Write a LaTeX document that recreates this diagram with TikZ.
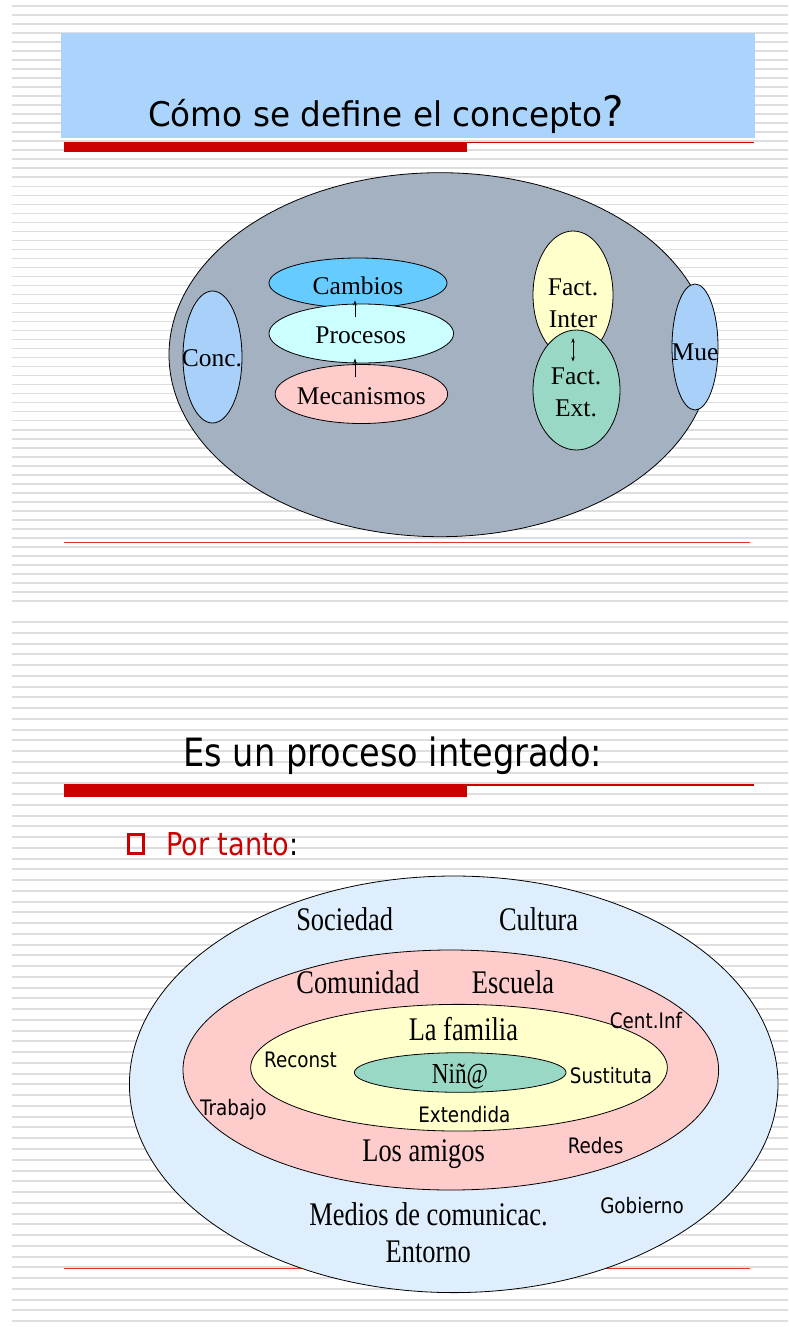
\documentclass[tikz,border=0pt]{standalone}
\usepackage{fontspec}
\usepackage{tikz}
\usetikzlibrary{shapes.geometric,arrows.meta}
\setmainfont{Liberation Serif}
\newfontfamily\titlesans[FakeStretch=0.96]{DejaVu Sans}
\newfontfamily\slidesans[FakeStretch=0.86]{DejaVu Sans}
\newfontfamily\narrowserif[FakeStretch=0.8]{Liberation Serif}

\definecolor{stripegray}{RGB}{222,222,222}
\definecolor{headblue}{RGB}{170,212,252}
\definecolor{slidered}{RGB}{204,0,0}
\definecolor{linered}{RGB}{226,50,50}
\definecolor{ovalgray}{RGB}{163,177,192}
\definecolor{ovalblue}{RGB}{168,208,248}
\definecolor{cambblue}{RGB}{102,204,255}
\definecolor{proccyan}{RGB}{204,255,255}
\definecolor{softpink}{RGB}{255,204,204}
\definecolor{softyellow}{RGB}{255,255,204}
\definecolor{softgreen}{RGB}{153,216,196}
\definecolor{paleblue}{RGB}{222,238,252}

\tikzset{
  stripe/.style={line width=1.6pt, color=stripegray},
  oval/.style={ellipse, draw=black, line width=0.8pt, inner sep=0pt},
  toptxt/.style={anchor=base, inner sep=0pt, font=\fontsize{25.5}{32}\selectfont},
  bigtxt/.style={anchor=base, inner sep=0pt, font=\narrowserif\fontsize{33}{36}\selectfont},
  smalltxt/.style={anchor=base, inner sep=0pt, font=\slidesans\fontsize{21.3}{24}\selectfont},
  redline/.style={line width=1.2pt, color=linered},
  arr/.style={line width=0.8pt, -{Stealth[length=5pt,width=3.5pt]}},
}

\begin{document}
\begin{tikzpicture}[x=1pt,y=-1pt]
    \useasboundingbox (0,0) rectangle (788,1327);
    \fill[white] (0,0) rectangle (788,1327);
    % striped background, two slides
    \foreach \k in {0,...,66}
        \draw[stripe] (11.5,{6+9.015*\k}) -- (788,{6+9.015*\k});
    \foreach \k in {0,...,65}
        \draw[stripe, line width=2pt] (11.5,{622+10.755*\k}) -- (788,{622+10.755*\k});

    % first slide
    \fill[headblue] (61,33) rectangle (755,138);
    \node[anchor=base west, inner sep=0pt, font=\titlesans\fontsize{34}{40}\selectfont] (title1)
        at (148,126.7) {Cómo se define el concepto{\fontsize{42}{42}\selectfont ?}};
    \fill[slidered] (64,142) rectangle (467,152);
    \draw[slidered, line width=1.2pt] (64,142.6) -- (754,142.6);
    \draw[redline] (64,542.7) -- (750,542.7);

    \node[oval, fill=ovalgray, minimum width=542pt, minimum height=364pt] (whole) at (440,354.7) {};
    \node[oval, fill=ovalblue, minimum width=59pt, minimum height=132pt] (concE) at (212.5,357) {};
    \node[oval, fill=ovalblue, minimum width=46pt, minimum height=126pt] (mueE) at (695,347) {};
    \node[oval, fill=cambblue, minimum width=178pt, minimum height=50pt] (cambE) at (358,283) {};
    \node[oval, fill=proccyan, minimum width=184.6pt, minimum height=59pt] (procE) at (361.3,333.5) {};
    \node[oval, fill=softpink, minimum width=172.5pt, minimum height=59pt] (mecE) at (361.4,394) {};
    \node[oval, fill=softyellow, minimum width=80pt, minimum height=128pt] (interE) at (573,295) {};
    \node[oval, fill=softgreen, minimum width=87pt, minimum height=120pt] (extE) at (576.5,390) {};

    \node[toptxt] (conc) at (212,366.7) {Conc.};
    \node[toptxt] (mue) at (695,360) {Mue};
    \node[toptxt] (cambios) at (358,294) {Cambios};
    \node[toptxt] (procesos) at (360.8,343.3) {Procesos};
    \node[toptxt] (mecanismos) at (361.4,404.3) {Mecanismos};
    \node[toptxt, anchor=center, align=center] (inter) at (573,302.9) {Fact.\\Inter};
    \node[toptxt, anchor=center, align=center] (ext) at (576,392.4) {Fact.\\Ext.};

    \draw[arr, shorten <=9.4pt, shorten >=6pt] ([xshift=-5.8pt]procesos.north) -- ([xshift=-3pt]cambios.south);
    \draw[arr, shorten <=10pt, shorten >=14.7pt] ([xshift=-6.4pt]mecanismos.north) -- ([xshift=-5.8pt]procesos.south);
    \draw[arr, {Stealth[length=5pt,width=3.5pt]}-{Stealth[length=5pt,width=3.5pt]}, shorten <=10.3pt, shorten >=6pt]
        (inter.south) -- ([xshift=-3pt]ext.north);

    % second slide
    \node[anchor=base west, inner sep=0pt, font=\slidesans\fontsize{39}{44}\selectfont] (title2)
        at (183.4,766.7) {Es un proceso integrado:};
    \fill[slidered] (64,785) rectangle (467,796.7);
    \draw[slidered, line width=1.2pt] (64,785) -- (754,785);
    \draw[slidered, line width=3pt] (128.2,834.2) rectangle (143.5,853.5);
    \node[anchor=base west, inner sep=0pt, font=\slidesans\fontsize{31.5}{36}\selectfont] (portanto)
        at (166,855) {\textcolor{slidered}{Por tanto}:};
    \draw[redline] (64,1268.3) -- (750,1268.3);

    \node[oval, fill=paleblue, minimum width=648.6pt, minimum height=416.6pt] (entornoE) at (453.7,1084.3) {};
    \node[oval, fill=softpink, minimum width=535.6pt, minimum height=240pt] (comunE) at (450.8,1070) {};
    \node[oval, fill=softyellow, minimum width=416.7pt, minimum height=126.7pt] (familiaE) at (459,1067.7) {};
    \node[oval, fill=softgreen, minimum width=211.7pt, minimum height=39.6pt] (ninoE) at (460.2,1072.5) {};

    \node[bigtxt] (sociedad) at (344.7,930) {Sociedad};
    \node[bigtxt] (cultura) at (538.6,930) {Cultura};
    \node[bigtxt] (comunidad) at (358,993) {Comunidad};
    \node[bigtxt] (escuela) at (513,993) {Escuela};
    \node[bigtxt] (familia) at (463.4,1040.7) {La familia};
    \node[bigtxt, font=\narrowserif\fontsize{29}{32}\selectfont] (nino) at (460,1083.3) {Niñ@};
    \node[bigtxt] (amigos) at (423.6,1161) {Los amigos};
    \node[bigtxt] (medios) at (428.5,1225) {Medios de comunicac.};
    \node[bigtxt] (entorno) at (428.2,1262.7) {Entorno};

    \node[smalltxt] (centinf) at (646,1028) {Cent.Inf};
    \node[smalltxt] (reconst) at (300.5,1067) {Reconst};
    \node[smalltxt] (sustituta) at (611,1083) {Sustituta};
    \node[smalltxt] (trabajo) at (233.3,1115) {Trabajo};
    \node[smalltxt] (extendida) at (464.4,1122) {Extendida};
    \node[smalltxt] (redes) at (595.6,1153) {Redes};
    \node[smalltxt] (gobierno) at (642,1213) {Gobierno};
\end{tikzpicture}
\end{document}
